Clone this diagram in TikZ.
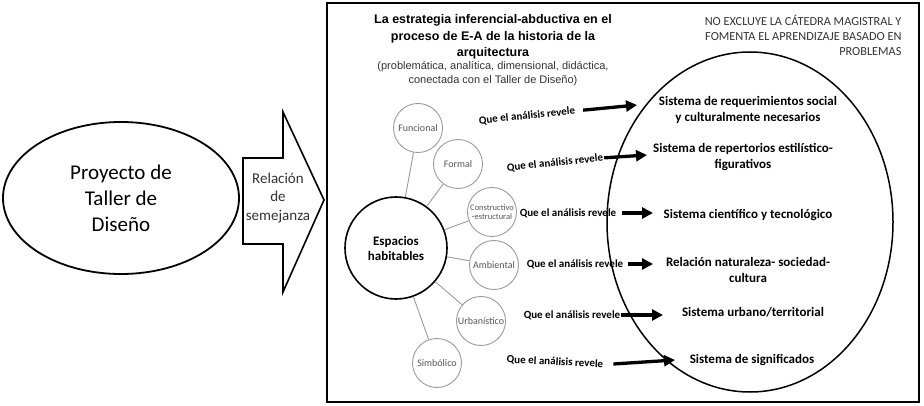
\documentclass[tikz,border=0pt]{standalone}
\usepackage{fontspec}
\setmainfont{Carlito}
\newfontfamily\arialfont{Liberation Sans}
\usetikzlibrary{arrows.meta,shapes.geometric}
\definecolor{txtgray}{HTML}{333333}
\definecolor{lblgray}{HTML}{555555}
\definecolor{ringgray}{HTML}{9A9A9A}

\begin{document}
\begin{tikzpicture}[x=1pt,y=-1pt,
  aspect/.style={draw=ringgray, line width=0.9pt, circle, minimum size=49pt, inner sep=0pt,
    text=lblgray, font=\fontsize{10}{11}\selectfont, align=center},
  reveal/.style={font=\bfseries\fontsize{11}{13}\selectfont, inner sep=1pt},
  sistema/.style={font=\bfseries\fontsize{13}{15.5}\selectfont, align=center},
  link/.style={draw=ringgray, line width=0.9pt},
  push/.style={draw, line width=3.3pt, -{Triangle[length=11pt,width=11pt]}}]
\useasboundingbox (0,0) rectangle (924,406);
\draw[line width=2.5pt] (327,3) rectangle (919,402);

% left side
\node[draw, ellipse, line width=1.8pt, minimum width=236pt, minimum height=152pt,
  font=\fontsize{21}{26}\selectfont, align=center] (proy) at (121,198) {Proyecto de\\Taller de\\Diseño};
\draw[line width=1.6pt] (243,158) -- (283,158) -- (283,112) -- (324,200) -- (283,292)
  -- (283,244) -- (243,244) -- cycle;
\node[text=txtgray, font=\fontsize{15}{18.5}\selectfont, align=center, inner sep=0pt] (rel) at (278,198) {Relación\\de\\semejanza};

% headings
\node[font=\arialfont\bfseries\fontsize{12.5}{16.5}\selectfont, align=center] (tit) at (493,37)
  {La estrategia inferencial-abductiva en el\\proceso de E-A de la historia de la\\arquitectura};
\node[text=txtgray, font=\arialfont\fontsize{11}{14}\selectfont, align=center] (sub) at (493,74)
  {(problemática, analítica, dimensional, didáctica,\\conectada con el Taller de Diseño)};
\node[text=txtgray, font=\fontsize{12.3}{15}\selectfont, align=right, anchor=east] (nota) at (905,35)
  {NO EXCLUYE LA CÁTEDRA MAGISTRAL Y\\FOMENTA EL APRENDIZAJE BASADO EN\\PROBLEMAS};

% spaces and aspects
\node[draw, circle, line width=1.6pt, minimum size=102pt, inner sep=0pt,
  font=\bfseries\fontsize{13}{15}\selectfont, align=center] (esp) at (396,248) {Espacios\\habitables};
\node[aspect] (fun) at (418,128) {Funcional};
\node[aspect] (form) at (458,164) {Formal};
\node[aspect, font=\fontsize{8.5}{9}\selectfont] (con) at (492,212) {Constructivo\\-estructural};
\node[aspect] (amb) at (494,265) {Ambiental};
\node[aspect] (urb) at (481,321) {Urbanístico};
\node[aspect] (sim) at (437,363) {Simbólico};
\path[link] (esp) -- (fun);
\path[link] (esp) -- (form);
\path[link] (esp) -- (con);
\path[link] (esp) -- (amb);
\path[link] (esp) -- (urb);
\path[link] (esp) -- (sim);

% analysis labels
\node[reveal, rotate=6] (q1) at (527,116) {Que el análisis revele};
\node[reveal, rotate=6] (q2) at (555,163) {Que el análisis revele};
\node[reveal] (q3) at (568,213) {Que el análisis revele};
\node[reveal] (q4) at (575,264) {Que el análisis revele};
\node[reveal] (q5) at (572,315) {Que el análisis revele};
\node[reveal, rotate=-3] (q6) at (555,362) {Que el análisis revele};

% systems
\draw[line width=1.5pt] (750,222) ellipse [x radius=143pt, y radius=170pt];
\node[sistema] (s1) at (748,110) {Sistema de requerimientos social\\y culturalmente necesarios};
\node[sistema] (s2) at (743,157) {Sistema de repertorios estilístico-\\figurativos};
\node[sistema] (s3) at (748,215) {Sistema científico y tecnológico};
\node[sistema] (s4) at (748,270) {Relación naturaleza- sociedad-\\cultura};
\node[sistema] (s5) at (753,312) {Sistema urbano/territorial};
\node[sistema] (s6) at (752,360) {Sistema de significados};

\coordinate (t1) at (637,105);
\coordinate (t2) at (647,155);
\coordinate (t3) at (653,213);
\coordinate (t4) at (653,264);
\coordinate (t5) at (663,315);
\coordinate (t6) at (675,360);
\path[push, shorten <=7pt] (q1.east) -- (t1);
\path[push] (q2.east) -- (t2);
\path[push, shorten <=5pt] (q3.east) -- (t3);
\path[push, shorten <=4pt] (q4.east) -- (t4);
\path[push] (q5.east) -- (t5);
\path[push, shorten <=9pt] (q6.east) -- (t6);
\end{tikzpicture}
\end{document}
